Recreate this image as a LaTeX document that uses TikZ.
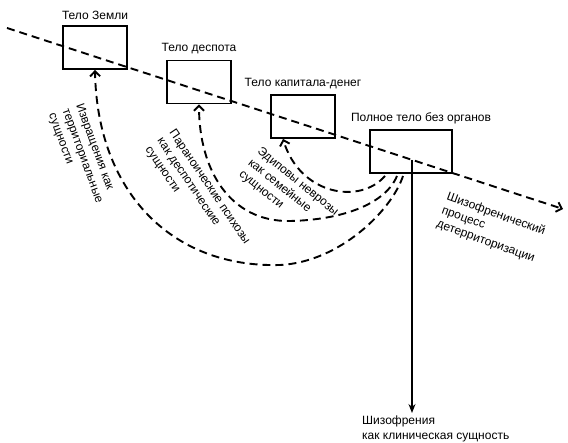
\documentclass[tikz,border=0pt]{standalone}
\usepackage{fontspec}
\setmainfont{Liberation Sans}
\usetikzlibrary{arrows.meta}
\begin{document}
\begin{tikzpicture}[x=1pt,y=-1pt,font=\fontsize{12}{14.5}\selectfont,
		body/.style={draw,line width=1.9pt,minimum width=64pt,minimum height=43pt,inner sep=0pt},
		lab/.style={label distance=2pt},
		flow/.style={line width=1.9pt,dash pattern=on 8pt off 5pt,-{Straight Barb[length=5pt,width=10pt]}},
		tag/.style={align=left,inner sep=0pt,anchor=north west}]
	\useasboundingbox (0,0) rectangle (568,443);
	\node[body,label={[lab]above:Тело Земли}] (zem) at (95,47.5) {};
	\node[body,label={[lab]above:Тело деспота}] (desp) at (199,82) {};
	\node[body,label={[lab]above:Тело капитала-денег}] (kap) at (303,116.5) {};
	\node[body,minimum width=82pt,label={[lab,xshift=10pt]above:Полное тело без органов}] (bwo) at (411,151.5) {};
	\coordinate (p0) at (7,28);
	\coordinate (p1) at (563,209);
	\coordinate (cut) at (412,160);
	\draw[flow] (p0) -- (p1);
	\draw[flow] ([xshift=-8pt,yshift=-2pt]bwo.south) .. controls (392,210) and (340,262) .. (280,265)
		.. controls (170,268) and (97,190) .. (zem.south);
	\draw[flow] ([xshift=-14pt,yshift=-2pt]bwo.south) .. controls (385,205) and (340,220) .. (290,221)
		.. controls (230,222) and (199,170) .. (desp.south);
	\draw[flow] ([xshift=-26pt,yshift=-2pt]bwo.south) .. controls (360,205) and (300,195) .. ([xshift=-20pt]kap.south);
	\node[tag,rotate=-70] (izv) at (84,102) {Извращения как\\территориальные\\сущности};
	\node[tag,rotate=-56] (par) at (176,128) {Параноические психозы\\как деспотические\\сущности};
	\node[tag,rotate=-39] (edip) at (262,146) {Эдиповы неврозы\\как семейные\\сущности};
	\node[tag,rotate=-20] (shiz) at (449,191) {Шизофренический\\процесс\\детерриторизации};
	\node[tag] (klin) at (362,416) {Шизофрения\\как клиническая сущность};
	\draw[line width=1.3pt,-{Stealth[length=9pt,width=7pt]},shorten >=3pt] (cut) -- (cut |- klin.north);
\end{tikzpicture}
\end{document}
